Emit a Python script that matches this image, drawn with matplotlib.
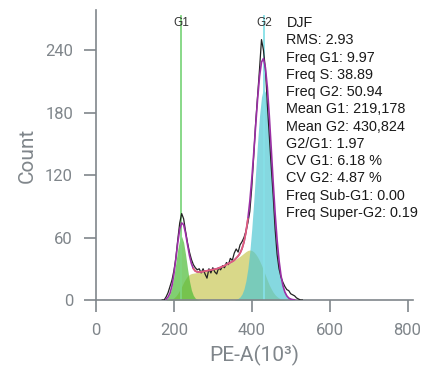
import numpy as np
import matplotlib.pyplot as plt

# histogram (black line)
hist_x = list(range(170, 535, 5))
hist_counts = [0, 0, 3, 7, 13, 19, 28, 40, 58, 74, 83, 78, 66, 55, 46, 39,
               34, 31, 29, 30, 26, 30, 25, 21, 30, 26, 31, 27, 25, 31, 29, 33, 31, 36, 34, 40,
               38, 45, 49, 46, 53, 56, 60, 66, 74, 85, 108, 138, 170, 196, 222, 250, 240, 222, 188, 158,
               128, 100, 68, 44, 30, 22, 17, 13, 10, 9, 6, 5, 4, 2, 1, 0, 0]

# model components
comp_x = list(range(180, 515, 5))
g1 = [0.9, 2.6, 6.1, 12.6, 22.7, 35.6, 48.8, 58.4, 61, 55.3, 43.8, 30.2, 18.2, 9.5,
      4.4, 1.7, 0.6, 0.2] + [0] * 49
s_phase = [0.1, 0.2, 0.4, 0.9, 2.0, 3.8, 6.3, 9.6, 13.0, 17.0, 20.3, 23.0, 24.6, 25.4,
           25.8, 26.1, 26.4, 26.7, 27.0, 27.4, 27.7, 28.1, 28.5, 28.9, 29.3, 29.6, 30.0, 30.7, 31.4, 32.2,
           33.0, 34.0, 35.0, 36.0,
           37.0, 38.2, 39.5, 40.7, 42.0, 43.5, 45.0, 46.5, 47.6, 48.0, 47.6, 46.3, 44.2, 41.3, 37.7, 33.5,
           28.8, 23.8, 19.0, 14.4,
           10.7, 7.5, 5.0, 3.2, 1.9, 1.1, 0.6, 0.3, 0.1, 0, 0, 0, 0]
g2 = [0] * 36 + [0.7, 1.5, 3.0, 5.8, 10.6, 18.5, 30.2, 46.7, 68.3, 94.3, 123.1, 151.8, 177,
                 194.9, 203, 199.4, 185.2, 162.6, 134.8, 105.6, 78.2, 54.7, 36.2, 22.6, 13.3,
                 7.4, 3.9, 1.9, 0.9, 0.4, 0.2]

gates = ["G1", "G2"]
gate_pos = [219.178, 430.824]
gate_colors = ["#7fd57f", "#86e0e7"]

stats = ["DJF", "RMS: 2.93", "Freq G1: 9.97", "Freq S: 38.89", "Freq G2: 50.94",
         "Mean G1: 219,178", "Mean G2: 430,824", "G2/G1: 1.97", "CV G1: 6.18 %",
         "CV G2: 4.87 %", "Freq Sub-G1: 0.00", "Freq Super-G2: 0.19"]

grey = "#80868b"
plt.rcParams['font.family'] = ['Roboto', 'DejaVu Sans']

fig = plt.figure(figsize=(4.37, 3.78), dpi=100)
ax = fig.add_axes([0.2197, 0.2063, 0.7253, 0.7672])

cx = np.array(comp_x)
fit = np.array(g1) + np.array(s_phase) + np.array(g2)

ax.fill_between(cx, 0, s_phase, color="#cdcb62", alpha=0.75, lw=0, zorder=1)
ax.fill_between(cx, 0, g1, color="#4cbb36", alpha=0.7, lw=0, zorder=1)
ax.fill_between(cx, 0, g2, color="#4cc6d2", alpha=0.68, lw=0, zorder=1)

for name, pos, col in zip(gates, gate_pos, gate_colors):
    ax.plot([pos, pos], [0, 273], color=col, lw=1.3, zorder=2)
    ax.text(pos, 266, name, ha="center", va="center", fontsize=8.5,
            color="#333333", family=["Liberation Sans"], zorder=5)

ax.plot(hist_x, hist_counts, color="#222222", lw=0.9, zorder=3)
ax.plot(cx, fit, color="#9b2fa5", lw=1.2, zorder=4)
mid = (cx >= 250) & (cx <= 390)
ax.plot(cx[mid], fit[mid], color="#e0607a", lw=1.2, zorder=4)

for i, line in enumerate(stats):
    ax.text(0.601, 0.955 - i * 0.0595, line, transform=ax.transAxes, ha="left", va="center",
            fontsize=10.4, color="#1a1a1a", family=["Liberation Sans"])

ax.set_xlim(0, 814)
ax.set_ylim(0, 278.4)
ax.set_xticks([0, 200, 400, 600, 800])
ax.set_yticks([0, 60, 120, 180, 240])
for side in ["top", "right"]:
    ax.spines[side].set_visible(False)
for side in ["left", "bottom"]:
    ax.spines[side].set_color(grey)
    ax.spines[side].set_linewidth(1.2)
ax.tick_params(axis="both", colors=grey, labelcolor=grey, labelsize=12, length=8.5, width=1.2)
ax.tick_params(axis="y", pad=8)
ax.tick_params(axis="x", pad=8)
ax.set_ylabel("Count", fontsize=15, color=grey, labelpad=6)
ax.set_xlabel("PE-A(10³)", fontsize=15, color=grey, labelpad=5)

fig.savefig("out.png", dpi=100)
